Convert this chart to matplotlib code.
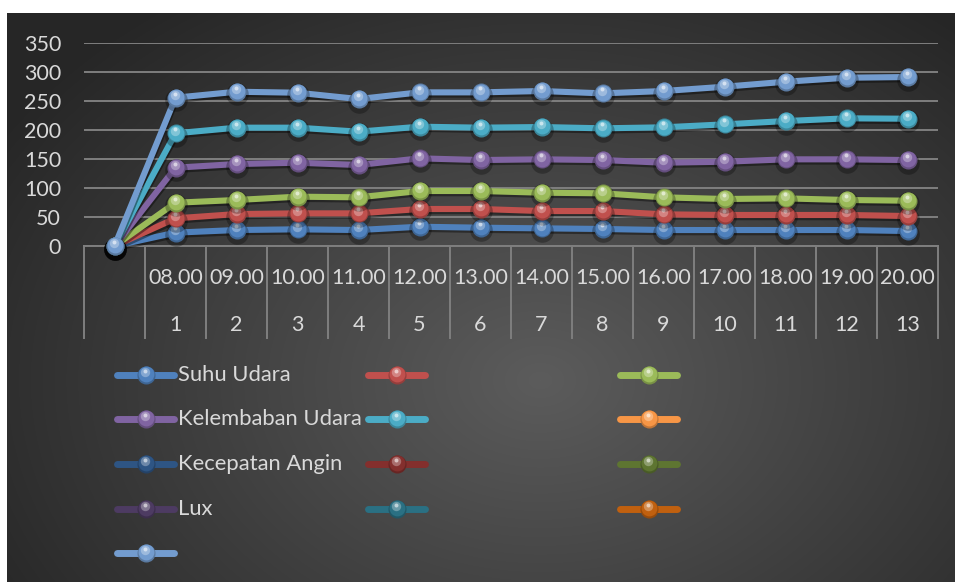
import numpy as np
import matplotlib
matplotlib.use("Agg")
import matplotlib.pyplot as plt
from matplotlib.lines import Line2D
from matplotlib.transforms import ScaledTranslation
import matplotlib.patheffects as pe
import matplotlib.colors as mcolors

# ---------------- data ----------------
jam = ["", "08.00", "09.00", "10.00", "11.00", "12.00", "13.00", "14.00",
       "15.00", "16.00", "17.00", "18.00", "19.00", "20.00"]
urutan = ["", "1", "2", "3", "4", "5", "6", "7", "8", "9", "10", "11", "12", "13"]

suhu_udara = [0, 23, 27.5, 28.7, 27.5, 33.2, 31.5, 30.4, 29.3, 27.5, 27.5, 27.5, 27.5, 25.8]
seri_2 = [0, 47.6, 55, 56.2, 56.2, 63.7, 63.7, 60.2, 60.2, 54.5, 53.4, 53.4, 53.4, 51.6]
seri_3 = [0, 74.5, 79.2, 84.9, 83.8, 94.7, 94.7, 91.8, 90.7, 83.8, 80.9, 82, 79.2, 78]
kelembaban_udara = [0, 134.8, 141.1, 143.4, 139.4, 150.9, 148, 149.2, 148, 143.4, 145.1, 149.2, 149.2, 148]
seri_5 = [0, 194, 203.7, 203.7, 196.8, 205.4, 203.7, 204.8, 202.6, 204.3, 209.4, 215.1, 219.8, 219.1]
seri_13 = [0, 255.3, 265.6, 263.9, 253, 264.5, 264.5, 266.8, 262.8, 266.8, 274.2, 282.8, 289.7, 290.9]

nama_seri = ["Suhu Udara", "", "", "Kelembaban Udara", "", "", "Kecepatan Angin",
             "", "", "Lux", "", "", ""]
nilai_seri = [suhu_udara, seri_2, seri_3, kelembaban_udara, seri_5, None, None,
              None, None, None, None, None, seri_13]
warna_seri = ["#4F81BD", "#C0504D", "#9BBB59", "#8064A2", "#4BACC6", "#F79646",
              "#2E5584", "#842F2D", "#5E7531", "#4D3B62", "#2A7083", "#C0600F", "#739CCF"]
y_ticks = [0, 50, 100, 150, 200, 250, 300, 350]

# ---------------- figure ----------------
W, H = 955, 582
fig = plt.figure(figsize=(W / 100, H / 100), dpi=100, facecolor="white")
FONT = ["Lato", "DejaVu Sans"]
TXT = "#D9D9D9"
GRID = "#7F7F7F"

# background radial gradient
bx0, by0 = 7, 13
bw, bh = W - bx0, H - by0
cols = np.arange(bw) + bx0
rows = np.arange(bh) + by0
PX, PY = np.meshgrid(cols, rows)
cx, cy, rx, ry = 540, 380, 640, 470
d = np.sqrt(((PX - cx) / rx) ** 2 + ((PY - cy) / ry) ** 2)
d = np.clip(d, 0, 1)
c0, c1 = 92 / 255, 38 / 255
g = c0 + (c1 - c0) * d
img = np.dstack([g, g, g])
bg = fig.add_axes([bx0 / W, 0, bw / W, bh / H], zorder=-10)
bg.imshow(img, aspect="auto", interpolation="bilinear")
bg.axis("off")

ax = fig.add_axes([84 / W, 1 - 246 / H, 854 / W, (246 - 42.7) / H])
ax.patch.set_alpha(0)
ax.set_xlim(-0.5, 13.5)
ax.set_ylim(0, 350)
for s in ax.spines.values():
    s.set_visible(False)
ax.set_yticks(y_ticks)
ax.set_yticklabels([str(v) for v in y_ticks], family=FONT, fontsize=15.5, color=TXT)
ax.tick_params(axis="y", length=0, pad=16.5)
ax.set_xticks([])
ax.yaxis.grid(True, color=GRID, lw=1.4)
ax.set_axisbelow(True)
ax.axhline(0, color=GRID, lw=1.4, zorder=1, clip_on=False)

xt = ax.get_xaxis_transform()
n = len(jam)
for k in range(n + 1):
    ax.plot([k - 0.5, k - 0.5], [0, -0.4525], transform=xt, color=GRID, lw=1.4, clip_on=False)
for i in range(n):
    ax.text(i, -0.156, jam[i], transform=xt, ha="center", va="center",
            family=FONT, fontsize=15.5, color=TXT)
    ax.text(i, -0.3886, urutan[i], transform=xt, ha="center", va="center",
            family=FONT, fontsize=15.5, color=TXT)


def shade(c, f):
    r, gg, b = mcolors.to_rgb(c)
    if f < 0:
        return (r * (1 + f), gg * (1 + f), b * (1 + f))
    return (r + (1 - r) * f, gg + (1 - gg) * f, b + (1 - b) * f)


def off(dx, dy):
    return ScaledTranslation(dx / 72, dy / 72, fig.dpi_scale_trans)


def sphere(container, x, y, color, tr, ms, z, shadow=True):
    arts = []
    if shadow:
        arts.append(Line2D(x, y, ls="none", marker="o", ms=ms * 1.25, mfc="black", mec="none",
                           alpha=0.28, transform=tr + off(0.6, -1.8), zorder=z))
    arts.append(Line2D(x, y, ls="none", marker="o", ms=ms, mfc=shade(color, -0.22),
                       mec="none", transform=tr, zorder=z + 0.01))
    arts.append(Line2D(x, y, ls="none", marker="o", ms=ms * 0.88, mfc=color,
                       mec="none", transform=tr + off(0, 0.5), zorder=z + 0.02))
    arts.append(Line2D(x, y, ls="none", marker="o", ms=ms * 0.52, mfc=shade(color, 0.3),
                       mec="none", transform=tr + off(-0.2, 2.0), zorder=z + 0.03))
    arts.append(Line2D(x, y, ls="none", marker="o", ms=ms * 0.22, mfc=shade(color, 0.7),
                       mec="none", transform=tr + off(-0.3, 3.0), zorder=z + 0.04))
    for a in arts:
        a.set_clip_on(False)
        container.add_artist(a)


xs = np.arange(n)
for i, (vals, col) in enumerate(zip(nilai_seri, warna_seri)):
    if vals is None:
        continue
    z = 3 + i
    ax.plot(xs, vals, color=col, lw=4.4, solid_capstyle="round", solid_joinstyle="round",
            zorder=z, clip_on=False,
            path_effects=[pe.SimpleLineShadow(offset=(0.6, -1.6), shadow_color="black", alpha=0.4),
                          pe.Normal()])
    sphere(ax, xs, vals, col, ax.transData, 13, z + 0.1)

# legend (Excel-like, 3 columns, row-major)
leg_rows = [375, 419, 464, 509, 553]
leg_cols = [117, 368, 620]
hl = 57
for i, (name, col) in enumerate(zip(nama_seri, warna_seri)):
    r, c = divmod(i, 3)
    x0 = leg_cols[c]
    yf = 1 - leg_rows[r] / H
    fig.add_artist(Line2D([x0 / W, (x0 + hl) / W], [yf, yf], color=col, lw=5,
                          solid_capstyle="round", transform=fig.transFigure, zorder=5))
    sphere(fig, [(x0 + hl / 2) / W], [yf], col, fig.transFigure, 13, 6, shadow=False)
    if name:
        fig.text((x0 + hl + 4) / W, yf, name, ha="left", va="center", family=FONT,
                 fontsize=15.8, color=TXT)

fig.savefig("out.png", dpi=100, facecolor="white")
